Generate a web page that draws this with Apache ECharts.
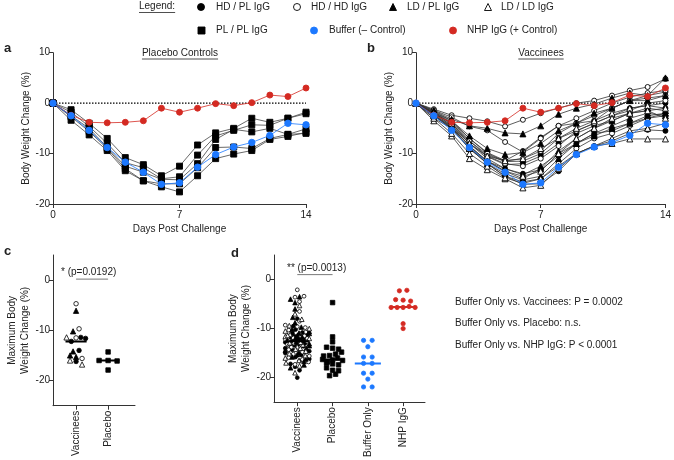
<!DOCTYPE html>
<html><head><meta charset="utf-8">
<script src="https://cdn.jsdelivr.net/npm/echarts@6/dist/echarts.min.js"></script>
<style>html,body{margin:0;padding:0;background:#fff}#c{width:674px;height:460px}</style>
</head><body><div id="c"></div>
<script>
// ---------------- DATA ----------------
const days = [0,1,2,3,4,5,6,7,8,9,10,11,12,13,14];
// Panel a: placebo (PL / PL IgG) animals
const placeboLines = [
  [0,-1.3,-4.0,-7.0,-10.8,-12.2,-14.4,-12.5,-8.3,-5.9,-5.0,-3.0,-3.8,-3.0,-1.8],
  [0,-1.8,-4.6,-8.0,-11.8,-12.8,-15.0,-14.6,-10.3,-6.5,-5.4,-4.3,-4.4,-3.0,-2.1],
  [0,-2.5,-5.0,-8.8,-12.5,-13.7,-15.1,-15.2,-12.0,-7.2,-5.2,-5.7,-5.0,-6.2,-5.1],
  [0,-2.7,-5.6,-9.0,-13.0,-15.4,-16.0,-16.0,-12.8,-8.8,-8.7,-9.0,-7.0,-6.2,-6.0],
  [0,-3.4,-6.3,-9.4,-13.4,-15.4,-16.6,-17.6,-14.4,-11.0,-10.1,-9.4,-7.2,-6.6,-5.8]
];
const bufferMean = [0,-2.5,-5.4,-8.8,-11.7,-13.7,-16.1,-15.8,-12.7,-10.2,-8.7,-7.8,-6.4,-4.0,-4.3];
const nhpMean    = [0,-2.4,-3.8,-3.9,-3.8,-3.5,-1.0,-1.8,-1.0,-0.1,-0.5,0.1,1.6,1.3,3.0];
// Panel b: vaccinee animals
const vacHDPL = [
  [0,-1.8,-3.8,-7.0,-9.8,-11.4,-9.5,-6.8,-4.5,-4.0,-3.5,-1.0,0.5,1.5,2.2],
  [0,-2.0,-4.0,-7.5,-10.2,-11.6,-11.5,-10.0,-7.0,-5.5,-4.0,-2.5,-1.0,-0.5,0.0],
  [0,-2.2,-4.3,-8.0,-10.6,-12.2,-12.0,-10.5,-8.0,-6.0,-4.5,-3.5,-2.0,-1.5,-1.0],
  [0,-2.5,-4.5,-8.5,-11.5,-13.0,-14.0,-13.2,-10.5,-8.0,-6.0,-5.5,-4.0,-3.0,-2.0],
  [0,-3.0,-5.0,-9.0,-12.0,-14.5,-16.1,-16.0,-13.5,-10.0,-8.5,-7.5,-6.0,-5.3,-5.5]
];
const vacHDHD = [
  [0,-1.2,-2.4,-3.0,-3.6,-4.6,-3.3,-2.0,-1.0,0.0,0.5,1.5,2.5,3.2,4.8],
  [0,-1.4,-2.8,-4.6,-5.4,-7.7,-9.7,-7.0,-4.5,-3.0,-1.5,0.0,1.2,2.0,2.5],
  [0,-1.8,-3.5,-7.0,-10.0,-11.5,-11.0,-9.5,-6.0,-4.0,-2.5,-1.0,0.5,1.0,1.5],
  [0,-2.0,-4.0,-7.5,-10.5,-12.0,-12.5,-11.0,-8.5,-5.5,-4.0,-2.5,-1.5,0.0,0.5],
  [0,-2.5,-4.8,-8.5,-12.0,-14.5,-15.6,-15.0,-12.0,-9.0,-7.0,-6.0,-4.5,-3.0,-2.5]
];
const vacLDPL = [
  [0,-1.5,-3.2,-4.5,-5.0,-5.9,-6.1,-4.5,-2.2,-1.0,-0.2,1.0,2.0,1.5,5.0],
  [0,-1.6,-3.5,-6.5,-9.0,-10.2,-9.8,-8.0,-5.5,-4.0,-2.0,-1.0,0.5,0.5,1.5],
  [0,-2.0,-4.5,-8.0,-11.0,-13.0,-14.2,-12.5,-10.0,-8.0,-6.5,-5.0,-4.0,-2.5,-2.0],
  [0,-2.2,-4.8,-8.5,-11.5,-13.5,-15.0,-13.0,-9.5,-7.0,-5.0,-3.5,-2.0,-1.0,-1.5],
  [0,-2.5,-5.0,-9.0,-12.0,-14.0,-15.2,-14.5,-11.0,-8.0,-6.0,-4.5,-3.0,-2.0,-2.5]
];
const vacLDLD = [
  [0,-2.0,-4.0,-8.0,-10.5,-11.4,-11.0,-9.0,-7.0,-5.0,-3.5,-2.0,-1.0,-0.5,-1.0],
  [0,-3.5,-6.5,-11.0,-13.2,-15.0,-16.8,-16.3,-13.0,-10.0,-8.5,-8.0,-7.1,-7.1,-7.1],
  [0,-3.0,-6.0,-10.0,-12.5,-14.8,-15.9,-15.0,-12.5,-10.0,-8.5,-7.0,-5.5,-5.0,-4.0],
  [0,-2.5,-5.0,-9.0,-11.5,-13.5,-14.5,-13.5,-10.0,-7.0,-5.0,-3.0,-2.0,-1.5,-3.0]
];
// Panel c: maximum body weight change (one experiment)
const cCategories = ['Vaccinees','Placebo'];
const cHDPL = [-11.6,-11.4,-12.2,-14.0,-16.2];
const cHDHD = [-4.7,-9.7,-11.5,-15.6];
const cLDPL = [-6.1,-10.2,-14.2,-15.3,-15.0];
const cLDLD = [-11.4,-16.8,-16.0];
const cPlacebo = [-14.3,-16.0,-16.0,-16.1,-17.9];
// Panel d: pooled maximum body weight change
const dCategories = ['Vaccinees','Placebo','Buffer Only','NHP IgG'];
const dHDPL = [-8.0,-9.5,-10.2,-10.8,-11.0,-11.3,-11.6,-11.9,-12.1,-12.3,-12.5,-12.8,-13.0,-13.2,-13.6,-14.0,-14.3,-14.6,-15.0,-15.4,-15.8,-16.2,-16.6,-17.2,-17.8,-18.5,-20.0,-11.8,-12.6,-13.4];
const dHDHD = [-2.1,-3.4,-3.6,-4.5,-6.5,-8.5,-9.3,-9.8,-10.3,-10.7,-11.1,-11.5,-11.9,-12.2,-12.6,-13.0,-13.4,-13.8,-14.3,-14.8,-15.2,-15.6,-15.9,-16.3,-16.8,-17.3,-9.6,-12.0,-13.2];
const dLDPL = [-3.5,-4.0,-4.7,-6.0,-7.7,-8.8,-9.7,-10.2,-10.6,-11.0,-11.4,-11.7,-12.0,-12.3,-12.7,-13.1,-13.5,-14.0,-14.4,-14.9,-15.3,-15.8,-16.2,-16.7,-17.4,-18.0,-10.9,-12.4];
const dLDLD = [-5.3,-7.0,-8.1,-9.4,-10.0,-10.5,-11.2,-11.6,-12.0,-12.4,-12.9,-13.3,-13.7,-14.2,-14.6,-15.1,-15.5,-16.0,-16.5,-17.0,-17.6,-19.0,-11.4,-12.8,-14.0];
const dPlacebo = [-4.7,-11.7,-12.7,-13.8,-14.0,-14.2,-14.8,-15.2,-15.5,-15.6,-16.0,-16.3,-16.4,-16.5,-16.8,-17.0,-17.2,-17.4,-18.0,-18.5,-18.6,-19.3,-19.6];
const dBuffer = [-12.4,-12.4,-13.7,-15.8,-15.8,-17.1,-17.1,-19.1,-19.1,-20.3,-21.9,-21.9];
const dNHP = [-2.3,-2.2,-4.4,-4.1,-4.2,-5.5,-5.7,-5.7,-5.7,-5.7,-9.0,-10.0];
const yTicksAB = [-20,-10,0,10];
const yTicksCD = [-20,-10,0];
const xTicksAB = [0,7,14];

// ---------------- STYLE ----------------
const FONT = 'Liberation Sans, Arial, Helvetica, sans-serif';
const INK = '#222';
const RED = '#d42a22';
const BLUE = '#1c78ff';

const chart = echarts.init(document.getElementById('c'), null, {renderer:'canvas'});

function median(a){const s=[...a].sort((x,y)=>x-y);const n=s.length;return n%2?s[(n-1)/2]:(s[n/2-1]+s[n/2])/2;}

// Prism-like row layout: values within binH share a row and are spread around the centre
function rowLayout(vals, binH, spacing, maxHalf, pxX){
  const idx = vals.map((v,i)=>i).sort((a,b)=>vals[b]-vals[a]);
  const out = new Array(vals.length);
  let i=0;
  while(i<idx.length){
    const v0 = vals[idx[i]]; const row=[];
    while(i<idx.length && v0-vals[idx[i]]<binH){row.push(idx[i]);i++;}
    const n=row.length;
    // mix order deterministically so shapes interleave
    const ordered = row.map((r,j)=>({r,k:(j*7+3)%Math.max(n,1)})).sort((a,b)=>a.k-b.k).map(o=>o.r);
    const sp = n>1?Math.min(spacing,2*maxHalf/(n-1)):0;
    ordered.forEach((r,j)=>{out[r]=((j-(n-1)/2)*sp)/pxX;});
  }
  return out;
}

const markerStyles = {
  HDPL:{symbol:'circle',fill:'#000',stroke:'#000'},
  HDHD:{symbol:'circle',fill:'#fff',stroke:'#000'},
  LDPL:{symbol:'triangle',fill:'#000',stroke:'#000'},
  LDLD:{symbol:'triangle',fill:'#fff',stroke:'#000'},
  PL:{symbol:'rect',fill:'#000',stroke:'#000'},
  BUF:{symbol:'circle',fill:BLUE,stroke:BLUE},
  NHP:{symbol:'circle',fill:RED,stroke:RED}
};

const series = [];
function lineSeries(g, vals, st, lineColor, size, z){
  series.push({type:'line', xAxisIndex:g, yAxisIndex:g, data: days.map((d,i)=>[d,vals[i]]),
    symbol: st.symbol, symbolSize: st.symbol==='triangle'?size+1:size, z:z,
    itemStyle:{color:st.fill,borderColor:st.stroke,borderWidth:0.9},
    lineStyle:{color:lineColor,width:0.8}, animation:false, silent:true});
}
function zeroLine(g){
  series.push({type:'line', xAxisIndex:g, yAxisIndex:g, data:[[days[0],0],[days[days.length-1],0]],
    symbol:'none', lineStyle:{color:'#000',width:1.2,type:[1.5,1.5]}, z:1, animation:false, silent:true});
}
// Panel a
zeroLine(0);
placeboLines.forEach(l=>lineSeries(0,l,markerStyles.PL,'#444',6,2));
lineSeries(0,nhpMean,markerStyles.NHP,RED,6,4);
lineSeries(0,bufferMean,markerStyles.BUF,BLUE,6.5,4);
// Panel b
zeroLine(1);
vacHDPL.forEach(l=>lineSeries(1,l,markerStyles.HDPL,'#333',5,2));
vacHDHD.forEach(l=>lineSeries(1,l,markerStyles.HDHD,'#333',5,2));
vacLDPL.forEach(l=>lineSeries(1,l,markerStyles.LDPL,'#333',5,2));
vacLDLD.forEach(l=>lineSeries(1,l,markerStyles.LDLD,'#333',5,2));
lineSeries(1,nhpMean,markerStyles.NHP,RED,6,4);
lineSeries(1,bufferMean,markerStyles.BUF,BLUE,6.5,4);

// dot plots
function dotGroup(g, catIdx, groups, pxX, size, lay, medColor, medHalf){
  const all=[]; groups.forEach(gr=>gr.vals.forEach(v=>all.push({v,st:gr.st})));
  const offs = rowLayout(all.map(a=>a.v), lay.binH, lay.spacing, lay.maxHalf, pxX);
  groups.forEach(gr=>{
    const data = all.map((a,i)=>a.st===gr.st?[catIdx+offs[i],a.v]:null).filter(Boolean);
    series.push({type:'scatter', xAxisIndex:g, yAxisIndex:g, data,
      symbol:gr.st.symbol, symbolSize:gr.st.symbol==='triangle'?size+0.8:size,
      itemStyle:{color:gr.st.fill,borderColor:gr.st.stroke,borderWidth:0.8,opacity:1}, z:3, animation:false, silent:true});
  });
  const m = median(all.map(a=>a.v));
  series.push({type:'line', xAxisIndex:g, yAxisIndex:g, data:[[catIdx-medHalf,m],[catIdx+medHalf,m]],
    symbol:'none', lineStyle:{color:medColor,width:2}, z:5, animation:false, silent:true});
}
// Panel c
dotGroup(2,0,[{vals:cHDPL,st:markerStyles.HDPL},{vals:cHDHD,st:markerStyles.HDHD},{vals:cLDPL,st:markerStyles.LDPL},{vals:cLDLD,st:markerStyles.LDLD}],32,4.5,{binH:0.9,spacing:6,maxHalf:9.5},'#000',0.33);
dotGroup(2,1,[{vals:cPlacebo,st:markerStyles.PL}],32,4.5,{binH:0.9,spacing:9,maxHalf:9.5},'#000',0.35);
// Panel d
dotGroup(3,0,[{vals:dHDPL,st:markerStyles.HDPL},{vals:dHDHD,st:markerStyles.HDHD},{vals:dLDPL,st:markerStyles.LDPL},{vals:dLDLD,st:markerStyles.LDLD}],35.3,3.8,{binH:0.75,spacing:4.5,maxHalf:12},'#000',0.33);
dotGroup(3,1,[{vals:dPlacebo,st:markerStyles.PL}],35.3,4.5,{binH:0.9,spacing:6,maxHalf:10},'#000',0.33);
dotGroup(3,2,[{vals:dBuffer,st:markerStyles.BUF}],35.3,4.3,{binH:0.9,spacing:8.6,maxHalf:9.5},BLUE,0.37);
dotGroup(3,3,[{vals:dNHP,st:markerStyles.NHP}],35.3,4.3,{binH:0.9,spacing:7.5,maxHalf:12},RED,0.36);
// significance brackets
series.push({type:'line',xAxisIndex:2,yAxisIndex:2,data:[[0,0.2],[1,0.2]],symbol:'none',lineStyle:{color:'#555',width:0.8},animation:false,silent:true});
series.push({type:'line',xAxisIndex:3,yAxisIndex:3,data:[[0,1.0],[1,1.0]],symbol:'none',lineStyle:{color:'#555',width:0.8},animation:false,silent:true});

// ---------------- AXES ----------------
const axLine = {show:true,onZero:false,lineStyle:{color:'#333',width:1}};
const lab = {color:INK,fontSize:10,fontFamily:FONT};
function yAxisAB(g){
  return {gridIndex:g,type:'value',min:-20,max:10,interval:10,axisLine:axLine,
    axisTick:{show:true,length:4,lineStyle:{color:'#333'}},axisLabel:{...lab,margin:3},splitLine:{show:false},
    name:'Body Weight Change (%)',nameLocation:'middle',nameGap:21,nameRotate:90,nameTextStyle:{...lab}};
}
function xAxisAB(g){
  return {gridIndex:g,type:'value',min:0,max:14,interval:7,axisLine:axLine,
    axisTick:{show:true,length:4,lineStyle:{color:'#333'}},axisLabel:{...lab,margin:6},splitLine:{show:false},
    name:'Days Post Challenge',nameLocation:'middle',nameGap:20,nameTextStyle:{...lab}};
}
function yAxisCD(g){
  return {gridIndex:g,type:'value',min:-25,max:5,interval:5,axisLine:axLine,
    axisTick:{show:true,length:4,customValues:yTicksCD,lineStyle:{color:'#333'}},
    axisLabel:{...lab,margin:3,customValues:yTicksCD},splitLine:{show:false},
    name:'Maximum Body\nWeight Change (%)',nameLocation:'middle',nameGap:18,nameRotate:90,
    nameTextStyle:{...lab,lineHeight:13}};
}
function xAxisCD(g,cats,min,max){
  const vals = cats.map((c,i)=>i);
  return {gridIndex:g,type:'value',min,max,axisLine:axLine,
    axisTick:{show:true,length:4,customValues:vals,lineStyle:{color:'#333'}},
    axisLabel:{...lab,rotate:90,margin:5,customValues:vals,formatter:v=>cats[Math.round(v)]||''},
    splitLine:{show:false}};
}

const option = {
  backgroundColor:'#fff',
  animation:false,
  grid:[
    {left:53,top:52.7,width:253,height:151.3},
    {left:416,top:52.7,width:252,height:151.3},
    {left:53,top:255,width:82,height:150.7},
    {left:274,top:255,width:151,height:150.7}
  ],
  xAxis:[xAxisAB(0),xAxisAB(1),xAxisCD(2,cCategories,-0.72,1.84),xAxisCD(3,dCategories,-0.66,3.62)],
  yAxis:[yAxisAB(0),yAxisAB(1),yAxisCD(2),yAxisCD(3)],
  series
};
chart.setOption(option);

// ---------------- ANNOTATIONS ----------------
const mctx = document.createElement('canvas').getContext('2d');
function tw(t,size,weight){mctx.font=(weight||'normal')+' '+size+'px '+FONT;return mctx.measureText(t).width;}
const gr = [];
function txt(x,y,t,opt){opt=opt||{};gr.push({type:'text',x,y,style:{text:t,x:0,y:0,fill:INK,font:(opt.weight||'normal')+' '+(opt.size||10)+'px '+FONT,textAlign:opt.align||'left',textVerticalAlign:'middle'},silent:true});}
function uline(x1,x2,y){gr.push({type:'line',shape:{x1,y1:y,x2,y2:y},style:{stroke:INK,lineWidth:0.8},silent:true});}
function underlined(cx,y,t,size,align){const w=tw(t,size);const x1=align==='left'?cx:cx-w/2;txt(cx,y,t,{size,align:align||'center'});uline(x1,x1+w,y+6);}
// panel letters
txt(4,48,'a',{size:13,weight:'bold'});
txt(367,48,'b',{size:13,weight:'bold'});
txt(4,251,'c',{size:13,weight:'bold'});
txt(231,253,'d',{size:13,weight:'bold'});
// titles
underlined(180,53,'Placebo Controls',10);
underlined(541,53,'Vaccinees',10);
// legend
underlined(139,6.5,'Legend:',10,'left');
function mk(x,y,st,s){
  const style={fill:st.fill,stroke:st.stroke,lineWidth:0.9};
  if(st.symbol==='circle') gr.push({type:'circle',shape:{cx:x,cy:y,r:s/2},style,silent:true});
  else if(st.symbol==='rect') gr.push({type:'rect',shape:{x:x-s/2,y:y-s/2,width:s,height:s},style,silent:true});
  else gr.push({type:'polygon',shape:{points:[[x,y-s/2],[x+s/2,y+s/2],[x-s/2,y+s/2]]},style,silent:true});
}
const legendItems = [
  [201,7,markerStyles.HDPL,'HD / PL IgG',216],
  [297,7,markerStyles.HDHD,'HD / HD IgG',311],
  [393,7,markerStyles.LDPL,'LD / PL IgG',407],
  [488,7,markerStyles.LDLD,'LD / LD IgG',501],
  [201.5,30.5,markerStyles.PL,'PL / PL IgG',216],
  [314,30.5,markerStyles.BUF,'Buffer (\u2013 Control)',329],
  [453,30.5,markerStyles.NHP,'NHP IgG (+ Control)',467]
];
legendItems.forEach(it=>{mk(it[0],it[1],it[2],7);txt(it[4],it[1],it[3],{size:10});});
// significance text
txt(61,272.5,'* (p=0.0192)',{size:10});
txt(287,268.5,'** (p=0.0013)',{size:10});
// stats text block
txt(455,302.7,'Buffer Only vs. Vaccinees: P = 0.0002',{size:10});
txt(455,323.3,'Buffer Only vs. Placebo: n.s.',{size:10});
txt(455,345,'Buffer Only vs. NHP IgG: P < 0.0001',{size:10});
chart.setOption({graphic:{elements:gr}});
</script>
</body></html>
